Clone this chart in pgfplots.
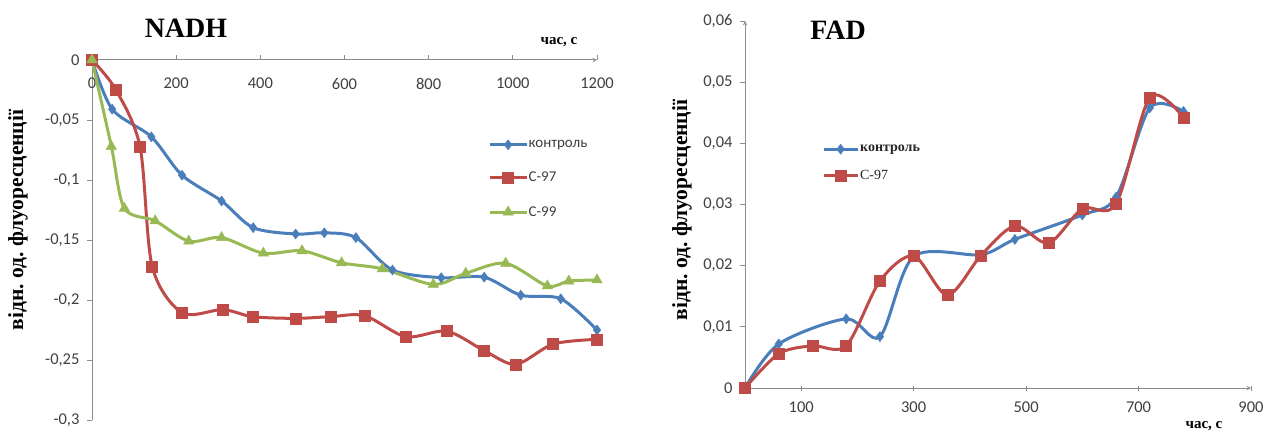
\documentclass[border=0pt]{standalone}
\usepackage{fontspec}
\setmainfont{Liberation Serif}
\newfontfamily\calfont{Carlito}
\usepackage{pgfplots}
\pgfplotsset{compat=1.18}
\frenchspacing
\definecolor{cblue}{HTML}{4A7EBB}
\definecolor{cred}{HTML}{BE4B48}
\definecolor{cgreen}{HTML}{98B954}
\definecolor{axgray}{HTML}{8C8C8C}
\definecolor{tkgray}{HTML}{404040}
\pgfplotsset{
  myaxis/.style={
    scale only axis,
    anchor=south west,
    axis line style={axgray, line width=1pt, -},
    tick style={axgray, line width=0.8pt},
    major tick length=5pt,
    ticklabel style={font=\calfont\fontsize{16.5}{16.5}\selectfont, text=tkgray},
    hide obscured x ticks=false,
    hide obscured y ticks=false,
    scaled x ticks=false, scaled y ticks=false,
    legend cell align=left,
    legend image code/.code={\draw[mark repeat=2,mark phase=2] plot coordinates {(0pt,0pt)(18pt,0pt)(36pt,0pt)};},
  },
  sb/.style={cblue, line width=3pt, smooth, tension=0.5, mark=diamond*, mark size=5pt, mark options={solid, fill=cblue, line width=0.5pt}},
  sr/.style={cred, line width=3pt, smooth, tension=0.5, mark=square*, mark size=5.5pt, mark options={solid, fill=cred, line width=0.5pt}},
  sg/.style={cgreen, line width=3pt, smooth, tension=0.5, mark=triangle*, mark size=6pt, mark options={solid, fill=cgreen, line width=0.5pt}},
}
\begin{document}
\frenchspacing
\begin{tikzpicture}
\useasboundingbox (0pt,0pt) rectangle (1266pt,432pt);
% ---------------- NADH ----------------
\begin{axis}[myaxis,
  at={(92pt,12pt)}, width=505pt, height=360pt,
  xmin=0, xmax=1200, ymin=-0.3, ymax=0,
  axis x line=middle, axis y line=left,
  xtick={0,200,400,600,800,1000,1200},
  xticklabels={0,200,400,600,800,1000,1200},
  xtick align=center,
  x tick style={yshift=2.5pt},
  x tick label style={anchor=north, yshift=-12pt},
  ytick={-0.3,-0.25,-0.2,-0.15,-0.1,-0.05,0},
  yticklabels={{-0,3},{-0,25},{-0,2},{-0,15},{-0,1},{-0,05},{0}},
  ytick align=outside,
  y tick label style={xshift=-4pt},
  legend style={draw=none, fill=none, at={(axis description cs:0.785,0.78)}, anchor=north west,
    font=\calfont\fontsize{15}{15}\selectfont, text=tkgray, row sep=21pt, inner sep=0pt,
    nodes={inner sep=1pt}},
]
\addplot[sb] coordinates {(0,0)(48,-0.041)(141,-0.064)(214,-0.096)(308,-0.1175)(383,-0.1397)(484,-0.145)(552,-0.144)(627,-0.148)(714,-0.175)(830,-0.1814)(932,-0.181)(1019,-0.196)(1114,-0.199)(1200,-0.225)};
\addlegendentry{контроль}
\addplot[sr] coordinates {(0,0)(56,-0.0244)(114,-0.072)(143,-0.172)(214,-0.2106)(311,-0.208)(382,-0.2139)(484,-0.2153)(567,-0.2139)(648,-0.2131)(746,-0.2306)(843,-0.226)(932,-0.2422)(1007,-0.2536)(1096,-0.2367)(1200,-0.2328)};
\addlegendentry{С-97}
\addplot[sg] coordinates {(0,0)(46,-0.072)(77,-0.1236)(150,-0.134)(230,-0.151)(308,-0.148)(407,-0.161)(499,-0.159)(593,-0.169)(690,-0.174)(811,-0.187)(888,-0.1778)(983,-0.1694)(1082,-0.1883)(1133,-0.1842)(1200,-0.1833)};
\addlegendentry{С-99}
\end{axis}
% ---------------- FAD ----------------
\begin{axis}[myaxis,
  at={(745pt,44pt)}, width=506pt, height=367pt,
  xmin=0, xmax=900, ymin=0, ymax=0.06,
  axis lines=left,
  xtick={100,300,500,700,900},
  xticklabels={100,300,500,700,900},
  xtick align=center,
  x tick label style={yshift=-8pt},
  ytick={0,0.01,0.02,0.03,0.04,0.05,0.06},
  yticklabels={{0},{0,01},{0,02},{0,03},{0,04},{0,05},{0,06}},
  ytick align=outside,
  y tick label style={xshift=-4pt},
  legend style={draw=none, fill=none, at={(axis description cs:0.152,0.665)}, anchor=north west,
    font=\fontsize{14}{14}\selectfont, text=black!85, row sep=15pt, inner sep=0pt,
    nodes={inner sep=1pt}},
  legend image code/.code={\draw[mark repeat=2,mark phase=2] plot coordinates {(0pt,0pt)(17pt,0pt)(34pt,0pt)};},
]
\addplot[sb] coordinates {(0,0)(60,0.0072)(180,0.0113)(240,0.0084)(300,0.0215)(420,0.0218)(480,0.0243)(600,0.0283)(660,0.0312)(720,0.0458)(780,0.0452)};
\addlegendentry{\textbf{контроль}}
\addplot[sr] coordinates {(0,0)(60,0.0056)(120,0.0069)(180,0.0069)(240,0.0175)(300,0.0216)(360,0.0152)(420,0.0217)(480,0.0265)(540,0.0237)(600,0.0293)(660,0.0301)(720,0.0475)(780,0.0442)};
\addlegendentry{С-97}
\end{axis}
% ---------------- titles and labels ----------------
\node[font=\bfseries\fontsize{28}{28}\selectfont] at (186pt,404pt) {NADH};
\node[font=\bfseries\fontsize{28}{28}\selectfont] at (838pt,402pt) {FAD};
\node[font=\bfseries\fontsize{15}{15}\selectfont] at (559pt,390pt) {час, с};
\node[font=\bfseries\fontsize{15}{15}\selectfont] at (1204pt,6pt) {час, с};
\node[font=\bfseries\fontsize{21.5}{21.5}\selectfont, rotate=90] at (18pt,212pt) {відн. од. флуоресценції};
\node[font=\bfseries\fontsize{21.5}{21.5}\selectfont, rotate=90] at (682pt,222pt) {відн. од. флуоресценції};
\end{tikzpicture}
\end{document}
